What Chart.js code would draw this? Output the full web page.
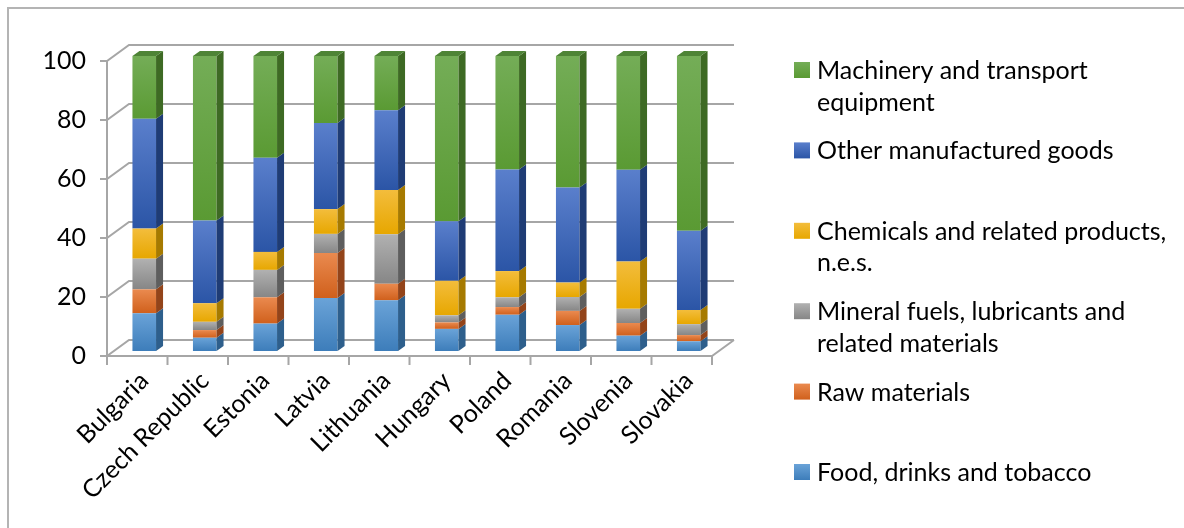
<!DOCTYPE html>
<html>
<head>
<meta charset="utf-8">
<title>Exports by product group</title>
<script src="https://cdn.jsdelivr.net/npm/chart.js@4/dist/chart.umd.min.js"></script>
<style>
  html, body { margin: 0; padding: 0; background: #fff; }
  canvas { display: block; }
</style>
</head>
<body>
<canvas id="myChart" width="1184" height="528"></canvas>
<script>
const countries = ["Bulgaria", "Czech Republic", "Estonia", "Latvia", "Lithuania",
  "Hungary", "Poland", "Romania", "Slovenia", "Slovakia"];

// shares in %, bottom of the stack first
const food      = [12.8, 4.5, 9.3, 18.0, 17.2, 7.5, 12.3, 8.8, 5.2, 3.3];
const raw       = [8.1, 2.6, 8.9, 15.2, 5.6, 2.2, 2.6, 4.8, 4.3, 2.1];
const mineral   = [10.4, 2.8, 9.3, 6.5, 16.8, 2.4, 3.3, 4.7, 4.8, 3.7];
const chemicals = [10.2, 6.3, 6.1, 8.4, 15.0, 11.7, 8.9, 4.9, 16.0, 4.8];
const otherGoods = [37.2, 28.0, 31.9, 29.2, 27.0, 20.2, 34.4, 32.2, 31.1, 26.9];
const machinery = [21.3, 55.8, 34.5, 22.7, 18.4, 56.0, 38.5, 44.6, 38.6, 59.2];

const yTicks = [0, 20, 40, 60, 80, 100];

const series = [
  { lines: ["Food, drinks and tobacco"], data: food,
    face: ["#6aa3d8", "#3d7dba"], side: "#2e5f8c", top: "#4a86c0" },
  { lines: ["Raw materials"], data: raw,
    face: ["#ea8a4f", "#d0601c"], side: "#93441a", top: "#c96325" },
  { lines: ["Mineral fuels, lubricants and", "related materials"], data: mineral,
    face: ["#b1b1b1", "#868686"], side: "#5e5e5e", top: "#8f8f8f" },
  { lines: ["Chemicals and related products,", "n.e.s."], data: chemicals,
    face: ["#f3bd3c", "#e7a700"], side: "#a67a00", top: "#d39a08" },
  { lines: ["Other manufactured goods"], data: otherGoods,
    face: ["#5a7fcc", "#2b55a6"], side: "#1f3c75", top: "#3b62b0" },
  { lines: ["Machinery and transport", "equipment"], data: machinery,
    face: ["#74ad57", "#5a9a33"], side: "#3e6a24", top: "#4e8436" }
];

const FONT = "Lato";
const FONT_SIZE = 25;
const TEXT = "#000";
const DEPTH_X = 7, DEPTH_Y = 5;   // bar depth
const FRONT_X = -7, FRONT_Y = 5;  // front edge of the floor
const BACK_X = 15, BACK_Y = -11;  // back wall

// vertical gradient for each stacked segment
function segmentFill(s, si) {
  return function (c) {
    const chart = c.chart;
    const y = chart.scales.y;
    if (!y || c.type !== "data") return s.face[1];
    let start = 0;
    for (let k = 0; k < si; k++) start += series[k].data[c.dataIndex];
    const end = start + s.data[c.dataIndex];
    const top = y.getPixelForValue(end), bottom = y.getPixelForValue(start);
    if (!isFinite(top) || !isFinite(bottom) || top === bottom) return s.face[1];
    const g = chart.ctx.createLinearGradient(0, top, 0, bottom);
    g.addColorStop(0, s.face[0]);
    g.addColorStop(1, s.face[1]);
    return g;
  };
}

const frame = {
  id: "frame",
  beforeDraw(chart) {
    const ctx = chart.ctx;
    ctx.save();
    ctx.fillStyle = "#fff";
    ctx.fillRect(0, 0, chart.width, chart.height);
    ctx.strokeStyle = "#b4b4b4";
    ctx.lineWidth = 2;
    ctx.beginPath();
    ctx.moveTo(8, chart.height);
    ctx.lineTo(8, 8);
    ctx.lineTo(chart.width, 8);
    ctx.stroke();
    ctx.restore();
  },
  beforeDatasetsDraw(chart) {
    const { ctx, scales: { x, y } } = chart;
    const L = x.left, R = x.right;
    const y0 = y.getPixelForValue(0);
    ctx.save();
    ctx.strokeStyle = "#a6a6a6";
    ctx.lineWidth = 2;
    ctx.beginPath();
    yTicks.forEach(v => {
      const yb = y.getPixelForValue(v);
      ctx.moveTo(L + FRONT_X - 7, yb + FRONT_Y);
      ctx.lineTo(L + FRONT_X, yb + FRONT_Y);
      ctx.lineTo(L + BACK_X, yb + BACK_Y);
      ctx.lineTo(R + BACK_X, yb + BACK_Y);
    });
    // front axis and floor
    ctx.moveTo(L + FRONT_X, y.getPixelForValue(100) + FRONT_Y);
    ctx.lineTo(L + FRONT_X, y0 + FRONT_Y);
    ctx.lineTo(R + FRONT_X, y0 + FRONT_Y);
    ctx.lineTo(R + BACK_X, y0 + BACK_Y);
    // category tick marks
    const step = (R - L) / countries.length;
    for (let i = 0; i <= countries.length; i++) {
      const xi = L + FRONT_X + i * step;
      ctx.moveTo(xi, y0 + FRONT_Y);
      ctx.lineTo(xi, y0 + FRONT_Y + 9);
    }
    ctx.stroke();
    ctx.restore();
  },
  afterDatasetsDraw(chart) {
    const ctx = chart.ctx;
    const last = chart.data.datasets.length - 1;
    ctx.save();
    chart.data.datasets.forEach((ds, di) => {
      const meta = chart.getDatasetMeta(di);
      meta.data.forEach(el => {
        const p = el.getProps(["x", "y", "base", "width"], true);
        const l = p.x - p.width / 2, r = p.x + p.width / 2;
        ctx.fillStyle = series[di].side;
        ctx.beginPath();
        ctx.moveTo(r, p.y);
        ctx.lineTo(r + DEPTH_X, p.y - DEPTH_Y);
        ctx.lineTo(r + DEPTH_X, p.base - DEPTH_Y);
        ctx.lineTo(r, p.base);
        ctx.closePath();
        ctx.fill();
        if (di === last) {
          ctx.fillStyle = series[di].top;
          ctx.beginPath();
          ctx.moveTo(l, p.y);
          ctx.lineTo(l + DEPTH_X, p.y - DEPTH_Y);
          ctx.lineTo(r + DEPTH_X, p.y - DEPTH_Y);
          ctx.lineTo(r, p.y);
          ctx.closePath();
          ctx.fill();
        }
      });
    });
    ctx.restore();
  }
};

// legend on the right, top of the stack listed first
const sideLegend = {
  id: "sideLegend",
  afterDraw(chart) {
    const ctx = chart.ctx;
    ctx.save();
    ctx.font = FONT_SIZE + "px " + FONT;
    ctx.textBaseline = "middle";
    const items = series.slice().reverse();
    items.forEach((s, i) => {
      const cy = 70 + i * 80.4;
      const g = ctx.createLinearGradient(0, cy - 8, 0, cy + 8);
      g.addColorStop(0, s.face[0]);
      g.addColorStop(1, s.face[1]);
      ctx.fillStyle = g;
      ctx.fillRect(794, cy - 8, 16, 16);
      ctx.fillStyle = TEXT;
      s.lines.forEach((t, j) => ctx.fillText(t, 817, cy + 1 + j * 31.5));
    });
    ctx.restore();
  }
};

const ctx = document.getElementById("myChart").getContext("2d");

const myChart = new Chart(ctx, {
  type: "bar",
  data: {
    labels: countries,
    datasets: series.map((s, si) => ({
      label: s.lines.join(" "),
      data: s.data,
      backgroundColor: segmentFill(s, si),
      borderWidth: 0,
      barPercentage: 0.39,
      categoryPercentage: 1
    }))
  },
  options: {
    responsive: false,
    animation: false,
    devicePixelRatio: 1,
    layout: { padding: { left: 0, right: 465, top: 56, bottom: 0 } },
    plugins: {
      legend: { display: false },
      tooltip: { enabled: false }
    },
    scales: {
      x: {
        stacked: true,
        grid: { display: false },
        border: { display: false },
        afterFit: s => { s.height = 177; },
        ticks: {
          autoSkip: false,
          minRotation: 45,
          maxRotation: 45,
          padding: 7,
          color: TEXT,
          font: { family: FONT, size: FONT_SIZE }
        }
      },
      y: {
        stacked: true,
        min: 0,
        max: 100,
        grid: { display: false },
        border: { display: false },
        afterFit: s => { s.width = 114; },
        ticks: {
          stepSize: 20,
          padding: 20,
          labelOffset: 5,
          color: TEXT,
          font: { family: FONT, size: FONT_SIZE }
        }
      }
    }
  },
  plugins: [frame, sideLegend]
});
</script>
</body>
</html>
